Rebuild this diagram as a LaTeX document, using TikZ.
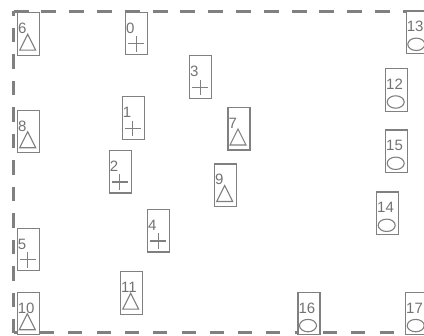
\documentclass[tikz,border=0pt]{standalone}
\usepackage{fontspec}
\setmainfont{Liberation Sans}
\definecolor{ln}{RGB}{128,128,128}
\definecolor{tx}{RGB}{115,115,115}
\tikzset{
  boxst/.style={draw=ln, fill=white, line width=1.1pt, minimum width=22pt, minimum height=42.5pt, inner sep=0pt, outer sep=0pt, anchor=north west},
  numst/.style={text=tx, font=\fontsize{15}{15}\selectfont, inner sep=0pt, anchor=base west},
  symst/.style={draw=ln, line width=1.1pt},
  framest/.style={draw=ln, line width=3pt},
}
\newcommand\mytri[1]{\draw[symst] ([shift={(2,37.5)}]#1.north west) -- ([shift={(10,21.5)}]#1.north west) -- ([shift={(18,37.5)}]#1.north west) -- cycle;}
\newcommand\myplus[1]{\draw[symst] ([shift={(2.5,31.5)}]#1.north west) -- ([shift={(18.5,31.5)}]#1.north west) ([shift={(10.5,24)}]#1.north west) -- ([shift={(10.5,39.5)}]#1.north west);}
\newcommand\myell[1]{\draw[symst] ([shift={(10,33.3)}]#1.north west) ellipse [x radius=8.5, y radius=6.2];}
\begin{document}
\begin{tikzpicture}[x=1pt,y=-1pt]
\useasboundingbox (0,0) rectangle (424,336);
\clip (0,0) rectangle (424,336);
\coordinate (tl) at (13.5,11.5);
\coordinate (bl) at (13.5,333);
\coordinate (tr) at (440,11.5);
\coordinate (br) at (440,333);
\draw[framest, dash pattern=on 15pt off 12.8pt] (tl) -- (tr);
\draw[framest, dash pattern=on 14.5pt off 12pt, dash phase=10pt] (tl) -- (bl);
\draw[framest, dash pattern=on 14pt off 14.3pt, dash phase=1.8pt] (bl) -- (br);
\foreach \n/\x/\y/\t in {
  0/125.7/12.3/\myplus, 1/122.3/96.7/\myplus, 2/109.3/150.5/\myplus,
  3/189.7/55.7/\myplus, 4/147.7/209.5/\myplus, 5/17.3/228.3/\myplus,
  6/17.7/12.7/\mytri, 7/228/107.5/\mytri, 8/17.7/110.3/\mytri,
  9/214.7/164/\mytri, 10/17.3/292.3/\mytri, 11/120.7/271.7/\mytri,
  12/385.7/68.7/\myell, 13/406.3/11/\myell, 14/376.7/192/\myell,
  15/385.7/130/\myell, 16/298/292.3/\myell, 17/405.7/292.3/\myell}{
  \node[boxst] (b\n) at (\x,\y) {};
  \node[numst] (n\n) at ([shift={(0.3,21)}]b\n.north west) {\n};
  \t{b\n}
}
\end{tikzpicture}
\end{document}
